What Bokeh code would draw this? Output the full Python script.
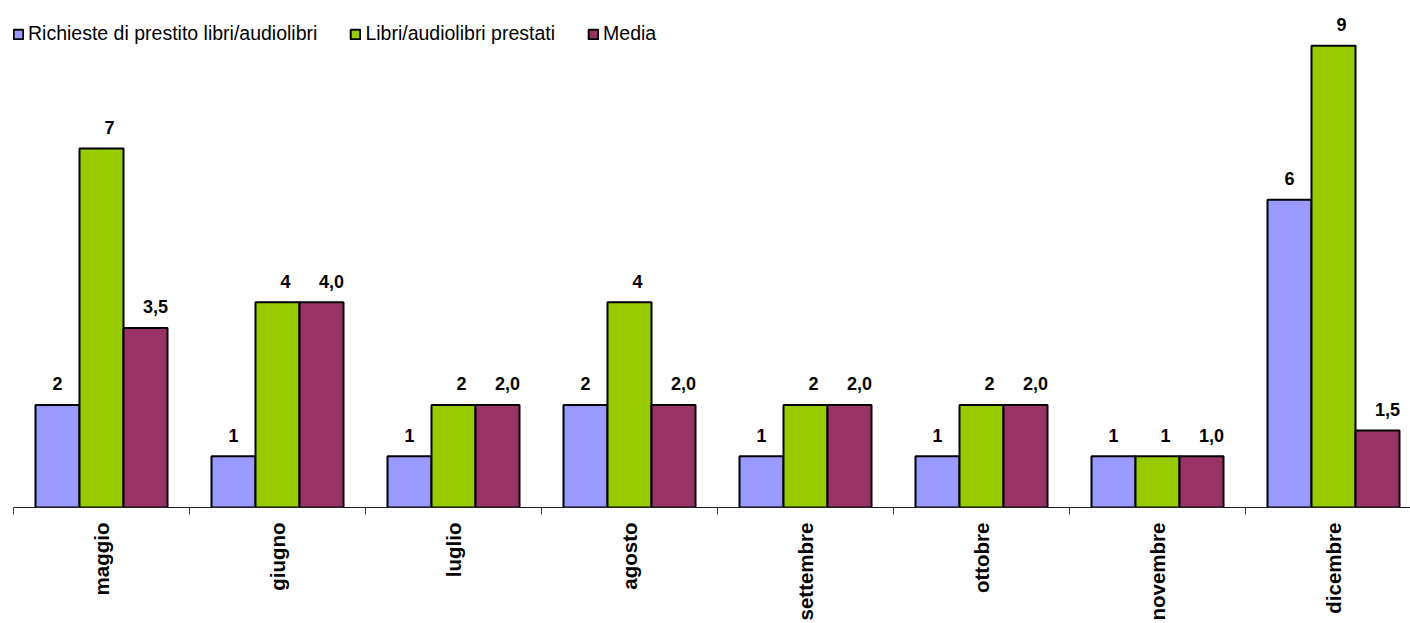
import math
from bokeh.plotting import figure
from bokeh.models import Range1d, FixedTicker
from bokeh.core.properties import value
from bokeh.embed import file_html
from bokeh.resources import INLINE

months = ["maggio", "giugno", "luglio", "agosto", "settembre", "ottobre", "novembre", "dicembre"]
richieste = [2, 1, 1, 2, 1, 1, 1, 6]
prestati = [7, 4, 2, 4, 2, 2, 1, 9]
media = [3.5, 4.0, 2.0, 2.0, 2.0, 2.0, 1.0, 1.5]

series_names = ["Richieste di prestito libri/audiolibri", "Libri/audiolibri prestati", "Media"]
series_values = [richieste, prestati, media]
series_labels = [
    [str(v) for v in richieste],
    [str(v) for v in prestati],
    [f"{v:.1f}".replace(".", ",") for v in media],
]
colors = ["#9999FF", "#99CC00", "#993366"]
offsets = [-0.25, 0.0, 0.25]
label_dx = [0, 8, 10]

W, H = 1410, 623
n = len(months)
cat_px = 176.0
left_border = 13
frame_w = W - left_border
x_end = frame_w / cat_px
frame_h = 509
y_end = frame_h / 51.5

p = figure(width=W, height=H, output_backend="svg", toolbar_location=None,
           x_range=Range1d(0, x_end), y_range=Range1d(0, y_end),
           min_border_left=left_border, min_border_right=0, min_border_top=0,
           min_border_bottom=H - frame_h)
p.outline_line_color = None
p.xgrid.visible = False
p.ygrid.visible = False
p.yaxis.visible = False
p.background_fill_color = "white"

font = "Liberation Sans"
for k in range(3):
    xs = [i + 0.5 + offsets[k] for i in range(n)]
    p.vbar(x=xs, top=series_values[k], width=0.25, bottom=0,
           fill_color=colors[k], line_color="black", line_width=2,
           legend_label=series_names[k])
    p.text(x=xs, y=series_values[k], text=series_labels[k],
           text_align="center", text_baseline="alphabetic",
           x_offset=label_dx[k], y_offset=-21,
           text_font=value(font), text_font_style="bold",
           text_font_size="18px", text_color="black")

centers = [i + 0.5 for i in range(n)]
bounds = [float(i) for i in range(n + 1)]
ax = p.xaxis[0]
ax.ticker = FixedTicker(ticks=centers, minor_ticks=bounds)
ax.major_label_overrides = {c: m for c, m in zip(centers, months)}
ax.major_label_orientation = math.pi / 2
ax.major_label_text_font = font
ax.major_label_text_font_style = "bold"
ax.major_label_text_font_size = "20.5px"
ax.major_label_text_color = "black"
ax.major_label_standoff = 8
ax.major_tick_out = 0
ax.major_tick_in = 0
ax.minor_tick_out = 7
ax.minor_tick_in = 0
ax.minor_tick_line_color = "#444444"
ax.axis_line_color = "#222222"
ax.axis_line_width = 1

lg = p.legend[0]
lg.orientation = "horizontal"
lg.location = (-1, frame_h - 47)
lg.margin = 0
lg.padding = 0
lg.spacing = 32
lg.label_standoff = 4
lg.glyph_width = 12
lg.glyph_height = 12
lg.label_height = 20
lg.label_text_font = font
lg.label_text_font_size = "19.5px"
lg.label_text_color = "black"
lg.border_line_color = None
lg.background_fill_alpha = 0

open("out.html", "w").write(file_html(p, INLINE))
